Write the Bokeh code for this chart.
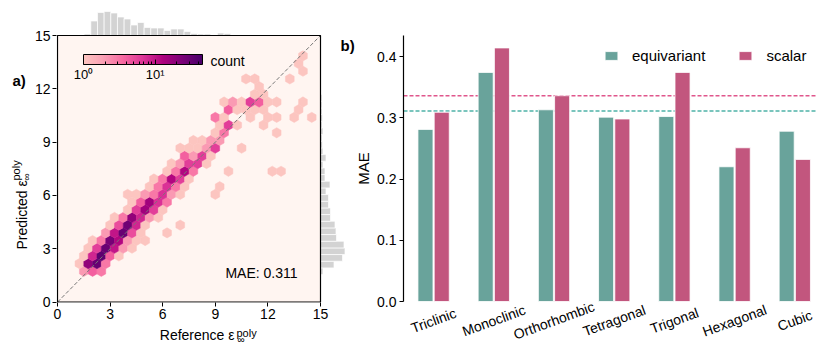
import numpy as np
from bokeh.plotting import figure
from bokeh.layouts import row, column
from bokeh.models import (ColumnDataSource, Range1d, LogColorMapper, ColorBar, Label, LabelSet,
                          Span, FixedTicker, NumeralTickFormatter)
from bokeh.transform import transform, dodge
from bokeh.util.hex import cartesian_to_axial
from bokeh.core.properties import value
from bokeh.embed import file_html
from bokeh.resources import INLINE

# ---------------- data: panel a ----------------
# hexbin cells: centre (x, y) and count
cell_x = [1.5, 2.0, 2.5,
          1.25, 1.75, 2.25, 2.75,
          1.5, 2.0, 2.5, 3.0, 3.5,
          1.75, 2.25, 2.75, 3.25, 3.75, 4.25,
          2.0, 2.5, 3.0, 3.5, 4.0, 4.5, 5.0,
          2.75, 3.25, 3.75, 4.25, 4.75, 6.25,
          3.0, 3.5, 4.0, 4.5, 5.0, 7.0,
          3.25, 3.75, 4.25, 4.75, 5.25, 5.75,
          4.0, 4.5, 5.0, 5.5, 6.0,
          4.25, 4.75, 5.25, 5.75, 6.25,
          4.0, 4.5, 5.0, 5.5, 6.0, 6.5, 7.0, 9.0,
          5.25, 5.75, 6.25, 6.75, 7.25, 9.25,
          5.5, 6.0, 6.5, 7.0, 7.5,
          6.25, 6.75, 7.25, 7.75, 9.75, 12.25, 12.75,
          6.5, 7.0, 7.5, 8.0, 8.5,
          7.25, 7.75, 8.25, 8.75,
          7.0, 7.5, 8.0, 8.5, 9.0, 10.5,
          7.75, 8.25, 8.75, 9.25,
          9.0, 9.5, 12.5,
          9.25, 9.75, 10.25, 11.75,
          9.0, 9.5, 11.0, 12.0, 12.5, 13.5, 14.5,
          9.75, 10.25, 10.75, 11.25, 11.75, 13.75,
          9.5, 10.0, 10.5, 11.0, 11.5, 12.0, 12.5, 14.0,
          11.25, 11.75,
          11.5,
          10.75, 11.25, 13.25,
          14.0,
          13.75,
          14.0]
cell_y = [1.73] * 3 + [2.17] * 4 + [2.60] * 5 + [3.03] * 6 + [3.46] * 7 + [3.90] * 6 + \
         [4.33] * 6 + [4.76] * 6 + [5.20] * 5 + [5.63] * 5 + [6.06] * 8 + [6.50] * 6 + \
         [6.93] * 5 + [7.36] * 7 + [7.79] * 5 + [8.23] * 4 + [8.66] * 6 + [9.09] * 4 + \
         [9.53] * 3 + [9.96] * 4 + [10.39] * 7 + [10.83] * 6 + [11.26] * 8 + [11.69] * 2 + \
         [12.12] * 1 + [12.56] * 3 + [12.99] * 1 + [13.42] * 1 + [13.86] * 1
cell_count = [2, 4, 3,
              1, 18, 30, 3,
              1, 8, 35, 4, 1,
              1, 6, 30, 10, 2, 1,
              1, 3, 25, 12, 2, 1, 1,
              2, 10, 30, 5, 1, 1,
              1, 5, 28, 8, 1, 1,
              1, 3, 18, 8, 2, 1,
              1, 6, 15, 6, 1,
              1, 4, 15, 7, 3,
              1, 1, 2, 3, 7, 2, 1, 1,
              1, 3, 7, 3, 1, 1,
              1, 3, 12, 6, 1,
              1, 3, 12, 3, 1, 1, 1,
              1, 2, 6, 6, 1,
              4, 2, 6, 1,
              1, 1, 1, 2, 6, 1,
              1, 1, 2, 2,
              1, 3, 1,
              1, 6, 1, 1,
              3, 1, 1, 1, 1, 1, 1,
              4, 1, 1, 1, 1, 1,
              1, 2, 1, 6, 4, 1, 1, 1,
              1, 1,
              1,
              1, 1, 1,
              1,
              1,
              1]

# marginal histograms
ref_bin_start, ref_bin_width = 1.14, 0.38
ref_hist_counts = [1, 3, 29, 46, 48, 45, 37, 33, 21, 26, 16, 15, 15, 10, 13, 13, 8, 4, 3, 3,
                   1, 5, 4, 1, 1, 0, 1, 0, 0, 1, 1, 0, 0, 1, 0, 1]
pred_bin_start, pred_bin_width = 1.55, 0.375
pred_hist_counts = [5, 27, 44, 49, 47, 32, 31, 29, 20, 20, 16, 16, 11, 19, 9, 9, 5, 11, 5, 4,
                    3, 5, 3, 4, 3, 3, 3, 1, 1, 1, 0, 1, 1, 1]

axis_lim = [0, 15]
ticks_a = [0, 3, 6, 9, 12, 15]
mae_a = 0.311
count_max = 46
cbar_ticks = [1, 10]
cbar_minor = [2, 3, 4, 5, 6, 7, 8, 9, 20, 30, 40]
cbar_tick_labels = {1: "10⁰", 10: "10¹"}

# ---------------- data: panel b ----------------
systems = ["Triclinic", "Monoclinic", "Orthorhombic", "Tetragonal", "Trigonal", "Hexagonal", "Cubic"]
mae_equivariant = [0.281, 0.374, 0.313, 0.301, 0.302, 0.220, 0.278]
mae_scalar = [0.309, 0.414, 0.336, 0.298, 0.374, 0.251, 0.232]
mean_equivariant = 0.311
mean_scalar = 0.336
ticks_b = [0.0, 0.1, 0.2, 0.3, 0.4]
ytop_b = 0.4343

# ---------------- style ----------------
FONT = "Liberation Sans"
TEAL = "#69a39b"
PINK = "#c2567e"
TEAL_LINE = "#4fb3a8"
PINK_LINE = "#e0568c"
HIST_GRAY = "#d3d3d3"
BOX_BG = "#fff5f1"
TOTAL_H = 344

anchors = ["#fcc5c0", "#fa9fb5", "#f768a1", "#dd3497", "#ae017e", "#7a0177", "#49006a"]
A = np.array([[int(h[i:i + 2], 16) for i in (1, 3, 5)] for h in anchors], float)
pal = []
for tt in np.linspace(0, len(anchors) - 1, 256):
    i = min(int(tt), len(anchors) - 2)
    f = tt - i
    c = A[i] * (1 - f) + A[i + 1] * f
    pal.append("#%02x%02x%02x" % tuple(int(round(v)) for v in c))


def lab(fig, x, y, text, size="14px", **kw):
    kw.setdefault("text_baseline", "middle")
    fig.add_layout(Label(x=x, y=y, text=text, text_font=FONT, text_font_size=size,
                         text_color="black", **kw))


def helper(x_lo, x_hi, y_lo, y_hi):
    """a bare figure whose data units are page pixels (y downwards), for outside texts"""
    f = figure(frame_width=x_hi - x_lo, frame_height=y_hi - y_lo, x_range=Range1d(x_lo, x_hi),
               y_range=Range1d(y_hi, y_lo), min_border=0, title=None, toolbar_location=None,
               x_axis_location=None, y_axis_location=None, output_backend="svg")
    f.outline_line_color = None
    f.grid.visible = False
    return f


# ---------------- panel a ----------------
BOX_L, BOX_R, BOX_T, BOX_B = 54, 317, 35, 301.6          # page pixels of the 0..15 box
PX_X = (BOX_R - BOX_L) / (axis_lim[1] - axis_lim[0])
PX_Y = (BOX_B - BOX_T) / (axis_lim[1] - axis_lim[0])
A_LEFT, A_FRAME_L, A_FRAME_R, A_FRAME_B, A_BOTTOM = 31, 53, 370, 302, 326


def ax_(px):
    return (px - BOX_L) / PX_X


def ay_(py):
    return (BOX_B - py) / PX_Y


x0, x1 = ax_(A_FRAME_L), ax_(A_FRAME_R)
y0, y1 = ay_(A_FRAME_B), ay_(0)
CPP = 2.0  # histogram counts per pixel

pa = figure(frame_width=A_FRAME_R - A_FRAME_L, frame_height=A_FRAME_B,
            x_range=Range1d(x0, x1), y_range=Range1d(y0, y1), title=None,
            min_border_left=A_FRAME_L - A_LEFT, min_border_right=0, min_border_top=0,
            min_border_bottom=A_BOTTOM - A_FRAME_B, toolbar_location=None, output_backend="svg")
pa.outline_line_color = None
pa.grid.visible = False
pa.extra_y_ranges = {"htop": Range1d(-(axis_lim[1] - y0) * PX_Y * CPP, (y1 - axis_lim[1]) * PX_Y * CPP)}
pa.extra_x_ranges = {"hright": Range1d(-(axis_lim[1] - x0) * PX_X * CPP, (x1 - axis_lim[1]) * PX_X * CPP)}

pa.quad(left=axis_lim[0], right=axis_lim[1], bottom=axis_lim[0], top=axis_lim[1],
        fill_color=BOX_BG, line_color=None)

mapper = LogColorMapper(palette=pal, low=1, high=count_max)
HEX_SIZE = 0.5 / np.sqrt(3)
q, r = cartesian_to_axial(np.array(cell_x), np.array(cell_y), HEX_SIZE, "pointytop")
hsrc = ColumnDataSource(dict(q=q, r=r, c=cell_count))
pa.hex_tile(q="q", r="r", size=HEX_SIZE, source=hsrc, fill_color=transform("c", mapper),
            line_color=transform("c", mapper), line_width=0.5)

ref_edges = ref_bin_start + ref_bin_width * np.arange(len(ref_hist_counts) + 1)
pa.quad(left=ref_edges[:-1], right=ref_edges[1:], bottom=0, top=ref_hist_counts,
        y_range_name="htop", fill_color=HIST_GRAY, line_color="white", line_width=0.7)
pred_edges = pred_bin_start + pred_bin_width * np.arange(len(pred_hist_counts) + 1)
pa.quad(bottom=pred_edges[:-1], top=pred_edges[1:], left=0, right=pred_hist_counts,
        x_range_name="hright", fill_color=HIST_GRAY, line_color="white", line_width=0.7)

pa.line(x=axis_lim, y=axis_lim, line_color="#777777", line_dash="4 2", line_width=1)
pa.quad(left=axis_lim[0], right=axis_lim[1], bottom=axis_lim[0], top=axis_lim[1],
        fill_color=None, line_color="black", line_width=1.2)

for axis in (pa.xaxis[0], pa.yaxis[0]):
    axis.ticker = FixedTicker(ticks=ticks_a)
    axis.axis_line_color = None
    axis.major_tick_out = 4
    axis.major_tick_in = 0
    axis.major_tick_line_color = "black"
    axis.minor_tick_line_color = None
    axis.major_label_text_font = FONT
    axis.major_label_text_font_size = "14px"
    axis.major_label_text_color = "black"
    axis.major_label_standoff = 2

cb = ColorBar(color_mapper=mapper, orientation="horizontal", width=119, height=10,
              location=(80 - A_FRAME_L, A_FRAME_B - 84), padding=0, margin=0,
              ticker=FixedTicker(ticks=cbar_ticks, minor_ticks=cbar_minor),
              major_label_overrides=cbar_tick_labels, major_label_text_font=FONT,
              major_label_text_font_size="13px", major_label_text_color="black",
              bar_line_color="black", major_tick_line_color="black", major_tick_in=5,
              minor_tick_line_color="black", minor_tick_in=3, label_standoff=2,
              background_fill_alpha=0, border_line_color=None)
pa.add_layout(cb)

lab(pa, ax_(207), ay_(60), "count")
lab(pa, ax_(258), ay_(272), f"MAE: {mae_a:.3f}", text_align="center")
lab(pa, ax_(337), ay_(45), "b)", "15px", text_font_style="bold")
lab(pa, ax_(360), ay_(168), "MAE", "15px", text_align="center", angle=np.pi / 2)

# texts left of and below panel a
ya = helper(0, A_LEFT, 0, TOTAL_H)
lab(ya, 12, 45, "a)", "15px", text_font_style="bold")
lab(ya, 21, 214, "Predicted ε", text_align="left", angle=np.pi / 2)
lab(ya, 15, 145, "poly", "11px", text_align="left", angle=np.pi / 2)
lab(ya, 26, 145, "∞", "10px", text_align="left", angle=np.pi / 2)

xa = helper(A_LEFT, A_FRAME_R, A_BOTTOM, TOTAL_H)
lab(xa, 209, 334, "Reference ε", text_align="right")
lab(xa, 211, 326.5, "poly", "11px", text_align="left", text_baseline="top")
lab(xa, 212, 339, "∞", "10px", text_align="left")

# ---------------- panel b ----------------
B_FRAME_L, B_FRAME_R, B_FRAME_T = 400, 814, 35
B_ZERO = 301
PX_B = (B_ZERO - B_FRAME_T) / ytop_b
CAT_W = 60.2
idx = list(range(len(systems)))

pb = figure(x_range=Range1d(-0.5, -0.5 + (B_FRAME_R - B_FRAME_L) / CAT_W),
            y_range=Range1d(-(TOTAL_H - B_ZERO) / PX_B, ytop_b), title=None,
            frame_width=B_FRAME_R - B_FRAME_L, frame_height=TOTAL_H - B_FRAME_T,
            min_border_left=B_FRAME_L - A_FRAME_R, min_border_right=0,
            min_border_top=B_FRAME_T, min_border_bottom=0, x_axis_location=None,
            toolbar_location=None, output_backend="svg")
pb.outline_line_color = None
pb.grid.visible = False

pb.add_layout(Span(location=mean_scalar, dimension="width", line_color=PINK_LINE,
                   line_dash="4 2", line_width=1.5, level="underlay"))
pb.add_layout(Span(location=mean_equivariant, dimension="width", line_color=TEAL_LINE,
                   line_dash="4 2", line_width=1.5, level="underlay"))

bsrc = ColumnDataSource(dict(idx=idx, cat=systems, equi=mae_equivariant, scal=mae_scalar))
pb.vbar(x=dodge("idx", -0.135), top="equi", width=0.25, source=bsrc,
        fill_color=TEAL, line_color="white", line_width=0.8, legend_label="equivariant")
pb.vbar(x=dodge("idx", 0.135), top="scal", width=0.25, source=bsrc,
        fill_color=PINK, line_color="white", line_width=0.8, legend_label="scalar")

leg = pb.legend[0]
leg.orientation = "horizontal"
leg.location = (200, TOTAL_H - 47.5 - 16)
leg.border_line_color = None
leg.background_fill_alpha = 0
leg.padding = 0
leg.margin = 0
leg.spacing = 32
leg.glyph_width = 16
leg.glyph_height = 11
leg.label_standoff = 13
leg.label_height = 16
leg.label_text_font = FONT
leg.label_text_font_size = "15px"
leg.label_text_color = "black"

yb = pb.yaxis[0]
yb.bounds = (0, ytop_b)
yb.ticker = FixedTicker(ticks=ticks_b)
yb.formatter = NumeralTickFormatter(format="0.0")
yb.axis_line_color = "black"
yb.axis_line_width = 1.2
yb.major_tick_out = 4
yb.major_tick_in = 0
yb.major_tick_line_color = "black"
yb.minor_tick_line_color = None
yb.major_label_text_font = FONT
yb.major_label_text_font_size = "14px"
yb.major_label_text_color = "black"
yb.major_label_standoff = 3

pb.add_layout(LabelSet(x="idx", y=(B_ZERO - 320) / PX_B, text="cat", source=bsrc, angle=0.349,
                       text_align="center", text_baseline="middle", text_font=value(FONT),
                       text_font_size="14px", text_color="black"))

layout = row(ya, column(pa, xa), pb)
open("out.html", "w").write(file_html(layout, INLINE))
